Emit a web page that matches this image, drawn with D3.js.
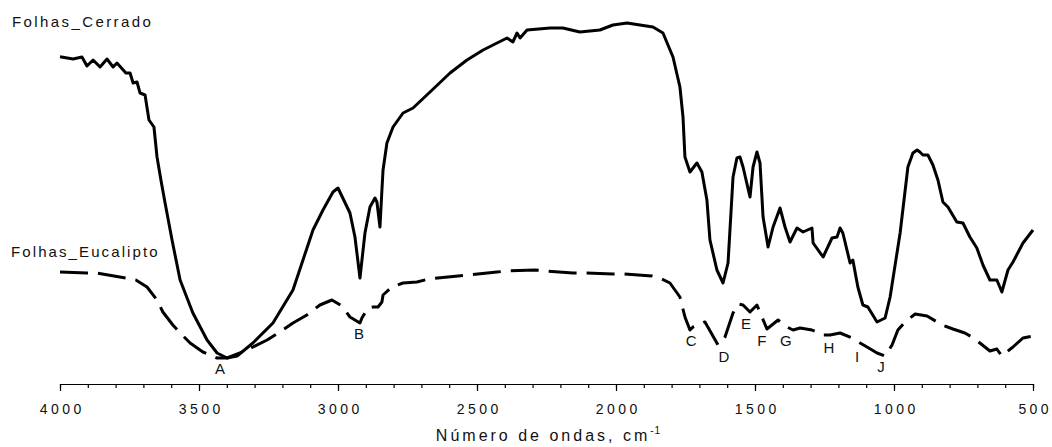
<!DOCTYPE html>
<html>
<head>
<meta charset="utf-8">
<script src="https://cdn.jsdelivr.net/npm/d3@7"></script>
<style>
  html, body { margin: 0; padding: 0; background: #fff; }
  svg { display: block; font-family: Arial, "Liberation Sans", sans-serif; }
</style>
</head>
<body>
<svg id="chart" width="1052" height="447"></svg>
<script>
// Wavenumber (cm-1) and transmittance (arbitrary %)
const cerradoWn = [4000,3953,3921,3903,3881,3856,3831,3809,3795,3763,3748,3737,3723,3712,3694,3680,3662,3651,3637,3622,3597,3568,3522,3471,3435,3399,3363,3306,3234,3162,3090,3054,3018,3000,2957,2939,2921,2903,2885,2867,2860,2849,2842,2838,2824,2802,2766,2730,2669,2597,2536,2478,2392,2371,2356,2345,2320,2237,2191,2130,2058,2011,1960,1914,1867,1831,1795,1770,1759,1752,1734,1709,1691,1673,1662,1637,1615,1597,1579,1565,1554,1543,1518,1507,1493,1482,1471,1453,1435,1410,1392,1374,1349,1327,1295,1291,1255,1223,1205,1194,1184,1158,1148,1130,1112,1094,1061,1032,1014,978,950,932,917,907,896,878,860,842,824,806,774,752,727,702,680,655,630,612,590,572,536,500];
const cerradoT = [81.8,81.25,81.75,79.5,81,79.25,81.25,79.25,80.25,77.75,77.75,75.25,75.5,72.75,72.25,66,64.25,56.75,51,45.25,36,26,17.75,11,7.75,6.5,7,10.25,15.25,23.5,38.5,43.5,48,49,42.75,36.75,26.5,37.75,44.25,46.5,45.5,39.25,48.5,53.5,60.25,64.25,67.75,69,73,77.75,81,83.5,86.5,85.5,87.75,86.5,88.5,89,89,88,88.5,89.75,90.25,89.75,89.25,87.75,81.75,74.25,66.75,56.75,53,55.25,53,46,36,28.5,25.25,30.25,51.75,56.5,56.75,54.25,46.75,54.25,58,55.25,41.75,34.25,39.25,44,39.25,35.5,39,38,39,35.25,31.75,36.5,36.75,39,37.75,30.25,31,24.25,19.75,19.25,15.5,16.5,21.75,37.75,54.25,57.75,58.5,58,57.25,57.25,54.75,51,45.5,44.25,40.5,40.25,36.75,34,29.75,26,26,23,28.5,30.5,35.25,38.5];

const eucaliptoWn = [4000,3903,3867,3763,3727,3687,3651,3630,3594,3568,3532,3486,3435,3399,3353,3306,3255,3209,3162,3112,3065,3022,2986,2957,2921,2914,2892,2874,2856,2842,2838,2806,2766,2716,2673,2568,2532,2428,2392,2291,2255,2155,2112,2011,1975,1871,1835,1806,1770,1752,1734,1723,1680,1633,1608,1579,1561,1543,1518,1493,1475,1457,1417,1385,1363,1338,1295,1255,1230,1194,1151,1122,1097,1061,1032,1007,986,960,924,881,845,827,788,745,720,691,655,630,612,572,536,500];
const eucaliptoT = [28,27.75,27.75,26.5,26,24.25,21,18,14.75,12.75,10.25,8,6.5,6.5,7.75,9.25,11,13,15.25,17.25,19.75,21,19.5,16.75,15.25,16.5,19,19.25,19.25,20.5,22.25,24.25,25.25,25.5,26.25,27,27.25,28,28.25,28.5,28.25,27.75,27.75,27.5,27.5,27,26.25,25.25,21.75,16.75,13.5,14.25,15.5,9.75,11.75,17.75,20,19.75,18,19.75,16.75,13.75,16,14.25,13.5,14,13.5,12.25,12.25,12.75,11.5,10.25,9.25,7.75,7,9.75,13.5,15.5,17.5,17,15.5,14.75,13.75,12.75,11.75,10.25,8.25,8.75,7,9.25,11.5,12];

const seriesNames = ["Folhas_Cerrado", "Folhas_Eucalipto"];

// Band labels: letter, wavenumber, transmittance position
const bandLetters = ["A","B","C","D","E","F","G","H","I","J"];
const bandWn      = [3424,2924,1730,1612,1532,1475,1389,1234,1133,1047];
const bandT       = [3.75,12.5,10.75,6.75,15,10.75,10.75,9,6.75,4.25];

const majorTicks = [4000,3500,3000,2500,2000,1500,1000,500];
const xTitle = "Número de ondas, cm";
const xTitleSup = "-1";

const svg = d3.select("#chart");
const x = d3.scaleLinear().domain([4000, 500]).range([60, 1033]);
const y = d3.scaleLinear().domain([0, 96]).range([384, 0]);

const line = d3.line().x(d => x(d[0])).y(d => y(d[1]));

const cerrado = cerradoWn.map((w, i) => [w, cerradoT[i]]);
const eucalipto = eucaliptoWn.map((w, i) => [w, eucaliptoT[i]]);

svg.append("path").datum(eucalipto)
  .attr("d", line).attr("fill", "none").attr("stroke", "#000")
  .attr("stroke-width", 3).attr("stroke-dasharray", "28,10")
  .attr("stroke-linejoin", "round");

svg.append("path").datum(cerrado)
  .attr("d", line).attr("fill", "none").attr("stroke", "#000")
  .attr("stroke-width", 3).attr("stroke-linejoin", "round");

// Axis: minor ticks
const minorTicks = d3.range(4000, 499, -100);
const gMinor = svg.append("g").attr("transform", "translate(0,384)")
  .call(d3.axisBottom(x).tickValues(minorTicks).tickSize(4).tickSizeOuter(0).tickFormat(""));
const gMajor = svg.append("g").attr("transform", "translate(0,384)")
  .call(d3.axisBottom(x).tickValues(majorTicks).tickSize(7).tickSizeOuter(0).tickFormat(d3.format("d")));
[gMinor, gMajor].forEach(g => {
  g.selectAll("path, line").attr("stroke", "#000").attr("stroke-width", 1.2);
});
gMajor.selectAll("text")
  .attr("y", 30).attr("dy", null)
  .attr("font-size", 14).attr("fill", "#111")
  .style("letter-spacing", "3.4px")
  .attr("dx", 1.7)
  .attr("font-family", "Arial, 'Liberation Sans', sans-serif");

// Axis title
const t = svg.append("text")
  .attr("x", (x(4000) + x(500)) / 2 + 2).attr("y", 441)
  .attr("text-anchor", "middle").attr("font-size", 16).attr("fill", "#111")
  .style("letter-spacing", "3px");
t.append("tspan").text(xTitle);
t.append("tspan").attr("font-size", 10).attr("dy", -7).style("letter-spacing", "1px").text(xTitleSup);

// Series labels
svg.append("text").attr("x", 12).attr("y", 27).attr("font-size", 15)
  .attr("fill", "#111").style("letter-spacing", "2.4px").text(seriesNames[0]);
svg.append("text").attr("x", 11).attr("y", 257).attr("font-size", 15)
  .attr("fill", "#111").style("letter-spacing", "2.1px").text(seriesNames[1]);

// Band letters
svg.selectAll("text.band").data(bandLetters).enter().append("text")
  .attr("class", "band")
  .attr("x", (d, i) => x(bandWn[i]))
  .attr("y", (d, i) => y(bandT[i]) + 5)
  .attr("text-anchor", "middle").attr("font-size", 15).attr("fill", "#111")
  .text(d => d);
</script>
</body>
</html>
